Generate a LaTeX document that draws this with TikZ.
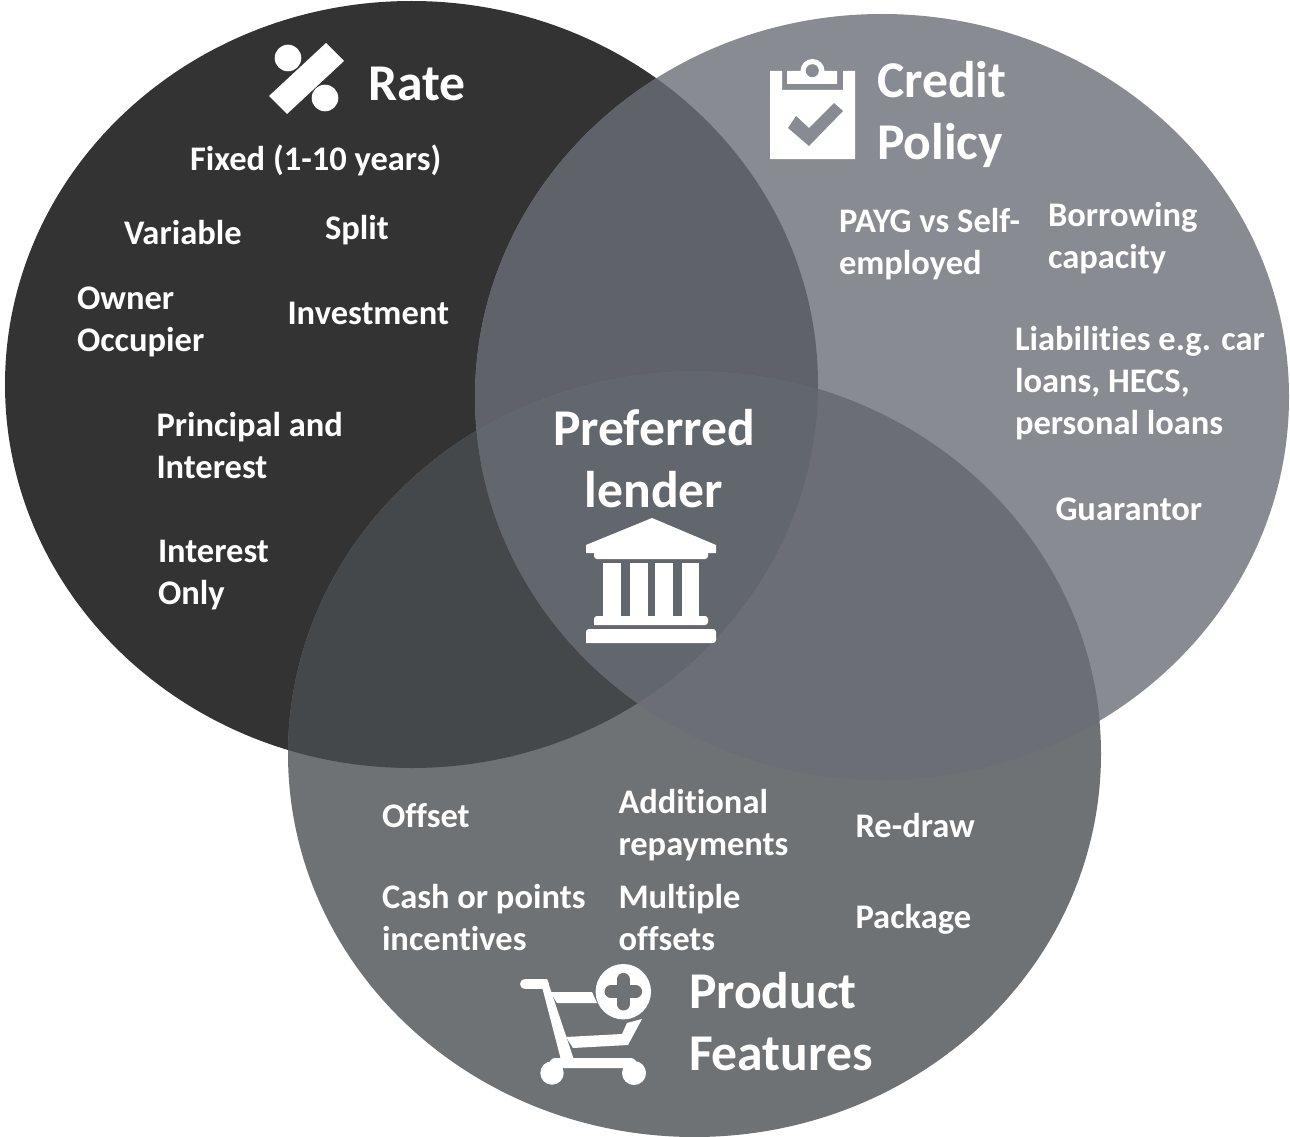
\documentclass[tikz,border=0pt]{standalone}
\usepackage{fontspec}
\setmainfont{Carlito}[BoldFont={Carlito Bold},Ligatures=CommonOff]
\definecolor{cRate}{HTML}{333333}
\definecolor{cCredit}{HTML}{888B92}
\definecolor{cProduct}{HTML}{6F7274}
\definecolor{cRC}{HTML}{5F6269}
\definecolor{cRP}{HTML}{45484A}
\definecolor{cCP}{HTML}{6B6E75}
\definecolor{cAll}{HTML}{62666D}
\tikzset{
  lbl/.style={anchor=base west,inner sep=0pt,outer sep=0pt,text=white,align=left,font=\bfseries\fontsize{34.5}{42}\selectfont},
  ttl/.style={anchor=base west,inner sep=0pt,outer sep=0pt,text=white,align=left,font=\bfseries\fontsize{51.6}{62}\selectfont},
  ico/.style={fill=white,draw=none}
}
\newcommand{\ERate}{(411.5pt,-384.5pt) ellipse [x radius=406.5pt,y radius=383.5pt]}
\newcommand{\ECredit}{(882pt,-397pt) ellipse [x radius=407pt,y radius=383pt]}
\newcommand{\EProduct}{(694.5pt,-754pt) ellipse [x radius=406.5pt,y radius=383pt]}
\begin{document}
\begin{tikzpicture}[x=1pt,y=-1pt]
\useasboundingbox (0,0) rectangle (1290,1137);
\fill[white] (0,0) rectangle (1290,1137);
% circles and overlaps
\fill[cRate] \ERate;
\fill[cCredit] \ECredit;
\fill[cProduct] \EProduct;
\begin{scope}\clip \ERate; \fill[cRC] \ECredit; \fill[cRP] \EProduct; \end{scope}
\begin{scope}\clip \ECredit; \fill[cCP] \EProduct; \end{scope}
\begin{scope}\clip \ERate; \clip \ECredit; \fill[cAll] \EProduct; \end{scope}
% percent icon
\fill[ico] (288,58) circle (13.3);
\fill[ico] (325,98) circle (13.3);
\fill[ico] (326,43) -- (344,61) -- (287,114) -- (269,96) -- cycle;
% clipboard icon
\fill[ico] (770,71) -- (782,71) -- (782,90) -- (843,90) -- (843,71) -- (855,71) -- (855,159) -- (770,159) -- cycle;
\fill[ico] (787,71) -- (800.5,71) arc[start angle=180,end angle=360,radius=12] -- (837,71) -- (837,84) -- (787,84) -- cycle;
\fill[cCredit] (812.3,70.7) circle (6.5);
\fill[cCredit] (788,128) -- (796,116) -- (809,128) -- (834,103) -- (843,111) -- (809,146) -- cycle;
% bank icon
\fill[ico] (652,518) -- (716,545) -- (716,553) -- (708,553) [rounded corners=3pt] -- (708,559) -- (594,559) [sharp corners] -- (594,553) -- (586,553) -- (586,545) -- cycle;
\foreach \a/\b in {603/621,630/648,655/673,682/699} \fill[ico] (\a,563) rectangle (\b,618);
\fill[ico,rounded corners=3pt] (594,625) -- (594,616) -- (708,616) -- (708,625) [sharp corners] -- cycle;
\fill[ico,rounded corners=3pt] (586,643) -- (586,629) -- (716,629) -- (716,643) [sharp corners] -- cycle;
% cart icon
\fill[ico] (623.3,991.7) circle (27.7);
\draw[cProduct,line width=13pt,line cap=round] (611,991.7) -- (635.6,991.7) (623.3,979.4) -- (623.3,1004);
\draw[white,line width=10pt,line cap=round,line join=round] (525,984) -- (544,984);
\fill[ico] (540,979) -- (547,979) -- (574,1060) -- (561,1060) -- cycle;
\fill[ico] (550,992) -- (592,992) -- (597,1003) -- (557,1003) -- cycle;
\fill[ico] (566,1037) -- (622,1034) -- (627,1023) -- (642,1019) -- (628,1045) -- (573,1048) -- cycle;
\fill[ico,rounded corners=3pt] (546,1068) -- (552,1058) -- (634,1058) -- (640,1068) -- cycle;
\fill[ico] (552,1073) circle (11.7);
\fill[ico] (634,1073) circle (12);
% titles
\node[ttl] (rate) at (368,100.5) {Rate};
\node[ttl] (credit) at (877,159.5) {Credit\\Policy};
\node[ttl] (product) at (689,1070.5) {Product\\Features};
\node[ttl,anchor=base,align=center] (lender) at (654,507) {Preferred\\lender};
% rate items
\node[lbl] (fixed) at (190,171) {Fixed (1-10 years)};
\node[lbl] (variable) at (124,244) {Variable};
\node[lbl] (split) at (325,239) {Split};
\node[lbl] (owner) at (77,351) {Owner\\Occupier};
\node[lbl] (investment) at (287.5,324) {Investment};
\node[lbl] (principal) at (156.5,478) {Principal and\\Interest};
\node[lbl] (iononly) at (158,604) {Interest\\Only};
% credit items
\node[lbl] (payg) at (839,274) {PAYG vs Self-\\employed};
\node[lbl] (borrow) at (1048,268) {Borrowing\\capacity};
\node[lbl] (liab) at (1015,434) {Liabilities e.g. car\\loans, HECS,\\personal loans};
\node[lbl] (guarantor) at (1055.5,520) {Guarantor};
% product items
\node[lbl] (offset) at (382,827) {Offset};
\node[lbl] (additional) at (618.5,855) {Additional\\repayments};
\node[lbl] (redraw) at (855.5,837) {Re-draw};
\node[lbl] (cash) at (382,950) {Cash or points\\incentives};
\node[lbl] (multiple) at (618.5,950) {Multiple\\offsets};
\node[lbl] (package) at (855.5,928) {Package};
\end{tikzpicture}
\end{document}
